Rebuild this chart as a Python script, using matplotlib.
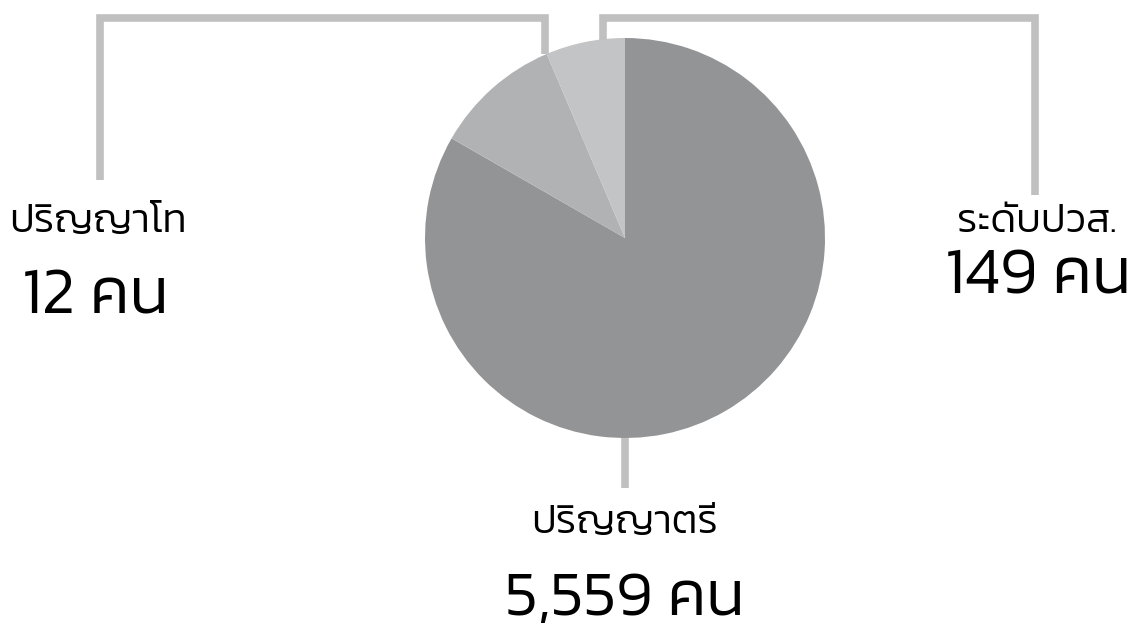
import matplotlib
matplotlib.use("Agg")
import matplotlib.pyplot as plt
from matplotlib import font_manager
from matplotlib.ft2font import FT2Font

# slice shares as drawn in the picture, and the counts printed on the labels
categories = ["ปริญญาตรี", "ปริญญาโท", "ระดับปวส."]
counts = [5559, 12, 149]
shares = [83.3, 10.3, 6.4]
colors = ["#939496", "#b1b2b4", "#c3c4c6"]


def thai_font():
    paths = sorted(font_manager.findSystemFonts())
    for want in ["Kanit-Light.ttf", "Kanit-Regular.ttf", "IBMPlexSansThai-Regular.ttf"]:
        for p in paths:
            if p.endswith("/" + want):
                return p
    for p in paths:
        try:
            if 0x0E1B in FT2Font(p).get_charmap():
                return p
        except Exception:
            continue
    return None


font_path = thai_font()

W, H = 1133, 630
fig = plt.figure(figsize=(W / 100, H / 100), dpi=100)
cx, cy, r = 625, 238, 200
ax = fig.add_axes([(cx - r) / W, (H - cy - r) / H, 2 * r / W, 2 * r / H])
ax.pie(shares, colors=colors, startangle=90, counterclock=False,
       wedgeprops=dict(linewidth=0))
ax.set_xlim(-1, 1)
ax.set_ylim(-1, 1)
ax.set_aspect("equal")
ax.axis("off")

line_kw = dict(color="#c0c0c0", lw=5.5, solid_capstyle="butt",
               solid_joinstyle="miter", clip_on=False)
ax.plot([-0.40, -0.40, -2.625, -2.625], [0.92, 1.10, 1.10, 0.29], **line_kw)
ax.plot([-0.11, -0.11, 2.05, 2.05], [0.99, 1.10, 1.10, 0.215], **line_kw)
ax.plot([0, 0], [-1.0, -1.25], **line_kw)


def fmt(n):
    return f"{n:,} คน"


def ftext(x, y, s, size, ha):
    if font_path:
        fp = font_manager.FontProperties(fname=font_path, size=size)
    else:
        fp = font_manager.FontProperties(size=size)
    fig.text(x / W, 1 - y / H, s, fontproperties=fp, ha=ha, va="center", color="black")


ftext(9, 223, categories[1], 29, "left")
ftext(22, 299, fmt(counts[1]), 47, "left")
ftext(1117, 223, categories[2], 29, "right")
ftext(1131, 279, fmt(counts[2]), 47, "right")
ftext(625, 524, categories[0], 29, "center")
ftext(625, 600, fmt(counts[0]), 46, "center")

fig.savefig("out.png", dpi=100)
